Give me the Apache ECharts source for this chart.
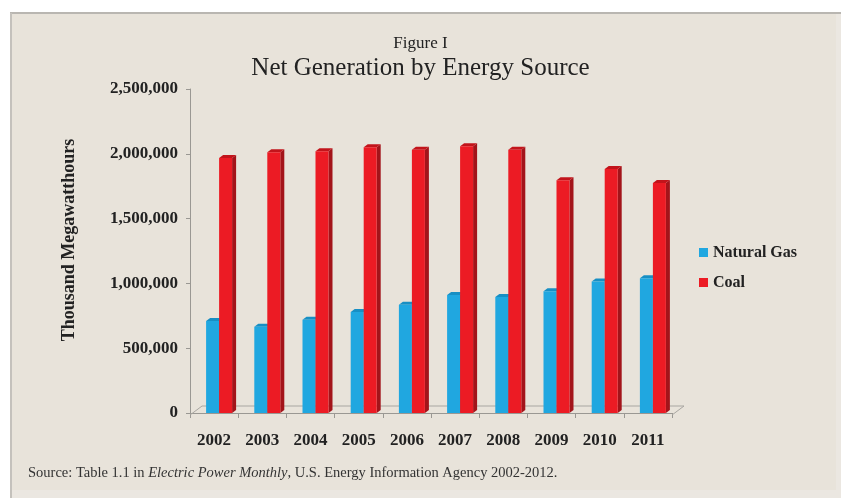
<!DOCTYPE html>
<html>
<head>
<meta charset="utf-8">
<script src="https://cdn.jsdelivr.net/npm/echarts@6/dist/echarts.min.js"></script>
<style>
  html, body { margin: 0; padding: 0; background: #fff; }
  #chart { width: 841px; height: 498px; }
</style>
</head>
<body>
<div id="chart"></div>
<script>
// 数据
const years = ['2002', '2003', '2004', '2005', '2006', '2007', '2008', '2009', '2010', '2011'];
const naturalGas = [710000, 665000, 720000, 780000, 835000, 910000, 895000, 940000, 1015000, 1040000];
const coal = [1968000, 2011000, 2019000, 2050000, 2032000, 2058000, 2032000, 1796000, 1883000, 1775000];
const yTicks = [0, 500000, 1000000, 1500000, 2000000, 2500000];

// 绘图区位置
const gLeft = 190, gRight = 169, gTop = 89, gBottom = 85;
const W = 841, H = 498;
const baseY = H - gBottom;
const serif = '"Liberation Serif", "Times New Roman", serif';

// 伪3D柱子
function bar3d(shift, face, side, top) {
  return function (params, api) {
    const p = api.coord([api.value(0), api.value(1)]);
    const b = api.coord([api.value(0), 0]);
    const w = 13, dx = 4, dy = 3;
    const x = p[0] + shift, y = p[1];
    return {
      type: 'group',
      children: [
        { type: 'polygon', shape: { points: [[x + w, y], [x + w + dx, y - dy], [x + w + dx, b[1] - dy], [x + w, b[1]]] }, style: { fill: side } },
        { type: 'polygon', shape: { points: [[x, y], [x + dx, y - dy], [x + w + dx, y - dy], [x + w, y]] }, style: { fill: top } },
        { type: 'rect', shape: { x: x, y: y, width: w, height: b[1] - y }, style: { fill: face } }
      ]
    };
  };
}

const chart = echarts.init(document.getElementById('chart'));
const option = {
  animation: false,
  backgroundColor: '#fff',
  graphic: [
    // 背景框
    { type: 'rect', z: -10, shape: { x: 10, y: 12, width: W - 10, height: H - 12 }, style: { fill: '#ebe7e1' } },
    { type: 'rect', z: -9, shape: { x: 11, y: 14, width: 825, height: 476 }, style: { fill: '#e8e3da' } },
    { type: 'line', z: -8, shape: { x1: 10, y1: 13, x2: W, y2: 13 }, style: { stroke: '#b9b6b1', lineWidth: 2 } },
    { type: 'line', z: -8, shape: { x1: 11, y1: 13, x2: 11, y2: H }, style: { stroke: '#c4c1bc', lineWidth: 2 } },
    // 地板
    { type: 'polyline', z: 1, shape: { points: [[gLeft, baseY + 2], [gLeft + 12, baseY - 7], [W - gRight + 12, baseY - 7], [W - gRight, baseY + 2]] }, style: { stroke: '#a8a6a1', lineWidth: 1, fill: null } },
    // 标题
    { type: 'text', left: 'center', top: 35, style: { text: 'Figure I', font: '17px ' + serif, fill: '#222' } },
    { type: 'text', left: 'center', top: 56, style: { text: 'Net Generation by Energy Source', font: '25px ' + serif, fill: '#222' } },
    // 来源
    {
      type: 'text', left: 28, top: 466,
      style: {
        text: '{n|Source: Table 1.1 in }{i|Electric Power Monthly}{n|, U.S. Energy Information Agency 2002-2012.}',
        rich: {
          n: { font: '14.5px ' + serif, fill: '#333' },
          i: { font: 'italic 14.5px ' + serif, fill: '#333' }
        }
      }
    }
  ],
  legend: {
    orient: 'vertical',
    left: 694,
    top: 238,
    icon: 'rect',
    itemWidth: 9,
    itemHeight: 9,
    itemGap: 11,
    textStyle: { fontFamily: serif, fontWeight: 'bold', fontSize: 16, color: '#222', lineHeight: 19 },
    data: ['Natural Gas', 'Coal']
  },
  grid: { left: gLeft, right: gRight, top: gTop, bottom: gBottom },
  xAxis: {
    type: 'category',
    data: years,
    offset: 2,
    axisLine: { lineStyle: { color: '#9a9893' } },
    axisTick: { show: true, length: 5, lineStyle: { color: '#9a9893' } },
    axisLabel: { margin: 17, fontFamily: serif, fontWeight: 'bold', fontSize: 17, color: '#222' }
  },
  yAxis: {
    type: 'value',
    min: yTicks[0],
    max: yTicks[yTicks.length - 1],
    interval: yTicks[1] - yTicks[0],
    name: 'Thousand Megawatthours',
    nameLocation: 'middle',
    nameGap: 112,
    nameTextStyle: { fontFamily: serif, fontWeight: 'bold', fontSize: 18, color: '#222', padding: [0, 0, 0, 22] },
    axisLine: { show: true, lineStyle: { color: '#9a9893' } },
    axisTick: { show: true, length: 4, lineStyle: { color: '#9a9893' } },
    splitLine: { show: false },
    axisLabel: {
      margin: 12,
      fontFamily: serif, fontWeight: 'bold', fontSize: 17, color: '#222',
      formatter: v => v.toLocaleString('en-US')
    }
  },
  series: [
    {
      name: 'Natural Gas',
      type: 'custom',
      z: 3,
      itemStyle: { color: '#20a7e0' },
      encode: { x: 0, y: 1 },
      renderItem: bar3d(-8, '#20a7e0', '#1779a6', '#178fc4'),
      data: naturalGas.map((v, i) => [i, v])
    },
    {
      name: 'Coal',
      type: 'custom',
      z: 4,
      itemStyle: { color: '#ec1b24' },
      encode: { x: 0, y: 1 },
      renderItem: bar3d(5, '#ec1b24', '#a3141a', '#c2141b'),
      data: coal.map((v, i) => [i, v])
    }
  ]
};
chart.setOption(option);
</script>
</body>
</html>
